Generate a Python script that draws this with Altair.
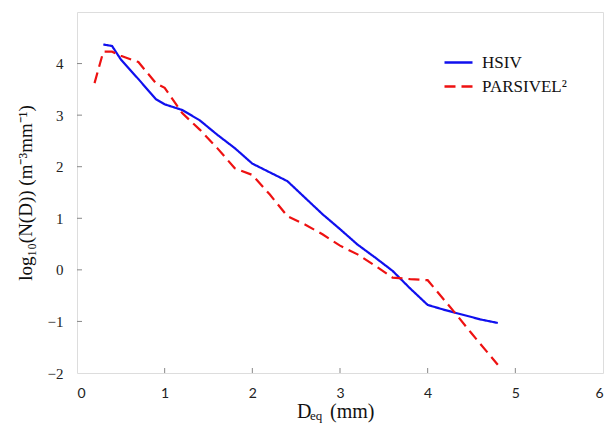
import altair as alt
import pandas as pd

hsiv_d = [0.3, 0.4, 0.5, 0.7, 0.9, 1.0, 1.2, 1.4, 1.6, 1.8, 2.0, 2.2, 2.4, 2.6, 2.8,
          3.0, 3.2, 3.4, 3.6, 3.8, 4.0, 4.2, 4.4, 4.6, 4.8]
hsiv_n = [4.37, 4.34, 4.08, 3.70, 3.31, 3.21, 3.10, 2.90, 2.62, 2.36, 2.06, 1.89, 1.72,
          1.40, 1.08, 0.79, 0.49, 0.24, -0.02, -0.36, -0.68, -0.78, -0.87, -0.96, -1.03]
pars_d = [0.2, 0.3, 0.4, 0.5, 0.7, 0.9, 1.0, 1.2, 1.4, 1.6, 1.8, 2.0, 2.2, 2.4, 2.6,
          2.8, 3.0, 3.2, 3.4, 3.6, 3.8, 4.0, 4.3, 4.5, 4.8]
pars_n = [3.62, 4.23, 4.23, 4.15, 4.03, 3.62, 3.53, 3.04, 2.72, 2.36, 1.97, 1.84, 1.46,
          1.04, 0.88, 0.69, 0.47, 0.30, 0.08, -0.15, -0.18, -0.20, -0.81, -1.23, -1.84]
series_names = ["HSIV", "PARSIVEL²"]
x_ticks = [0, 1, 2, 3, 4, 5, 6]
y_ticks = [-2, -1, 0, 1, 2, 3, 4]

df = pd.concat([
    pd.DataFrame({"d": hsiv_d, "n": hsiv_n, "s": series_names[0]}),
    pd.DataFrame({"d": pars_d, "n": pars_n, "s": series_names[1]}),
])

W, H = 526, 361
xs = alt.Scale(domain=[0, 6], nice=False)
ys = alt.Scale(domain=[-2, 5], nice=False)

leg = dict(title=None, orient="none", legendX=366, legendY=35,
           symbolType="stroke", symbolSize=784, symbolStrokeWidth=2.5,
           labelFont="Liberation Serif", labelFontSize=17,
           labelColor="#111", labelOffset=8, padding=0, rowPadding=-2)

lines = alt.Chart(df).mark_line(strokeWidth=2.2).encode(
    x=alt.X("d:Q", scale=xs, axis=alt.Axis(
        values=x_ticks, format="d", title=None, grid=False, domain=False, ticks=False,
        labelFont="Lato", labelFontSize=14, labelColor="#222", labelPadding=13)),
    y=alt.Y("n:Q", scale=ys, axis=alt.Axis(
        values=y_ticks, format="d", grid=False, domain=False, ticks=False,
        labelFont="Liberation Serif", labelFontSize=15, labelColor="#222", labelPadding=14,
        title="log₁₀(N(D)) (m⁻³mm⁻¹)", titleFont="Liberation Serif", titleFontSize=19,
        titleFontWeight="normal", titleColor="#111", titlePadding=12)),
    color=alt.Color("s:N", scale=alt.Scale(domain=series_names, range=["#1010ee", "#ee1111"]),
                    legend=alt.Legend(**leg)),
    strokeDash=alt.StrokeDash("s:N", scale=alt.Scale(domain=series_names, range=[[1, 0], [11, 6]]),
                              legend=alt.Legend(**leg)),
)

xt = alt.Chart(pd.DataFrame({"v": x_ticks[1:-1]})).mark_rule(color="#888", strokeWidth=1).encode(
    x=alt.X("v:Q", scale=xs), y=alt.value(H), y2=alt.value(H - 5))
yt = alt.Chart(pd.DataFrame({"v": y_ticks[1:]})).mark_rule(color="#888", strokeWidth=1).encode(
    y=alt.Y("v:Q", scale=ys), x=alt.value(0), x2=alt.value(5))

t_base = alt.Chart(pd.DataFrame({"a": [0]}))
tD = t_base.mark_text(text="D", font="Liberation Serif", fontSize=20, align="left",
                      baseline="alphabetic", color="#111").encode(x=alt.value(220), y=alt.value(406))
tEq = t_base.mark_text(text="eq", font="Liberation Serif", fontSize=13, align="left",
                       baseline="alphabetic", color="#111").encode(x=alt.value(233), y=alt.value(408))
tMm = t_base.mark_text(text="(mm)", font="Liberation Serif", fontSize=20, align="left",
                       baseline="alphabetic", color="#111").encode(x=alt.value(253), y=alt.value(406))

chart = alt.layer(xt, yt, lines, tD, tEq, tMm).properties(
    width=W, height=H,
    autosize=alt.AutoSizeParams(type="none"),
    padding={"left": 69, "top": 4, "right": 4, "bottom": 51},
).configure_view(stroke="#111", strokeWidth=2.2).configure(background="white")

chart.save("out.html", embed_options={"renderer": "svg", "actions": False})
